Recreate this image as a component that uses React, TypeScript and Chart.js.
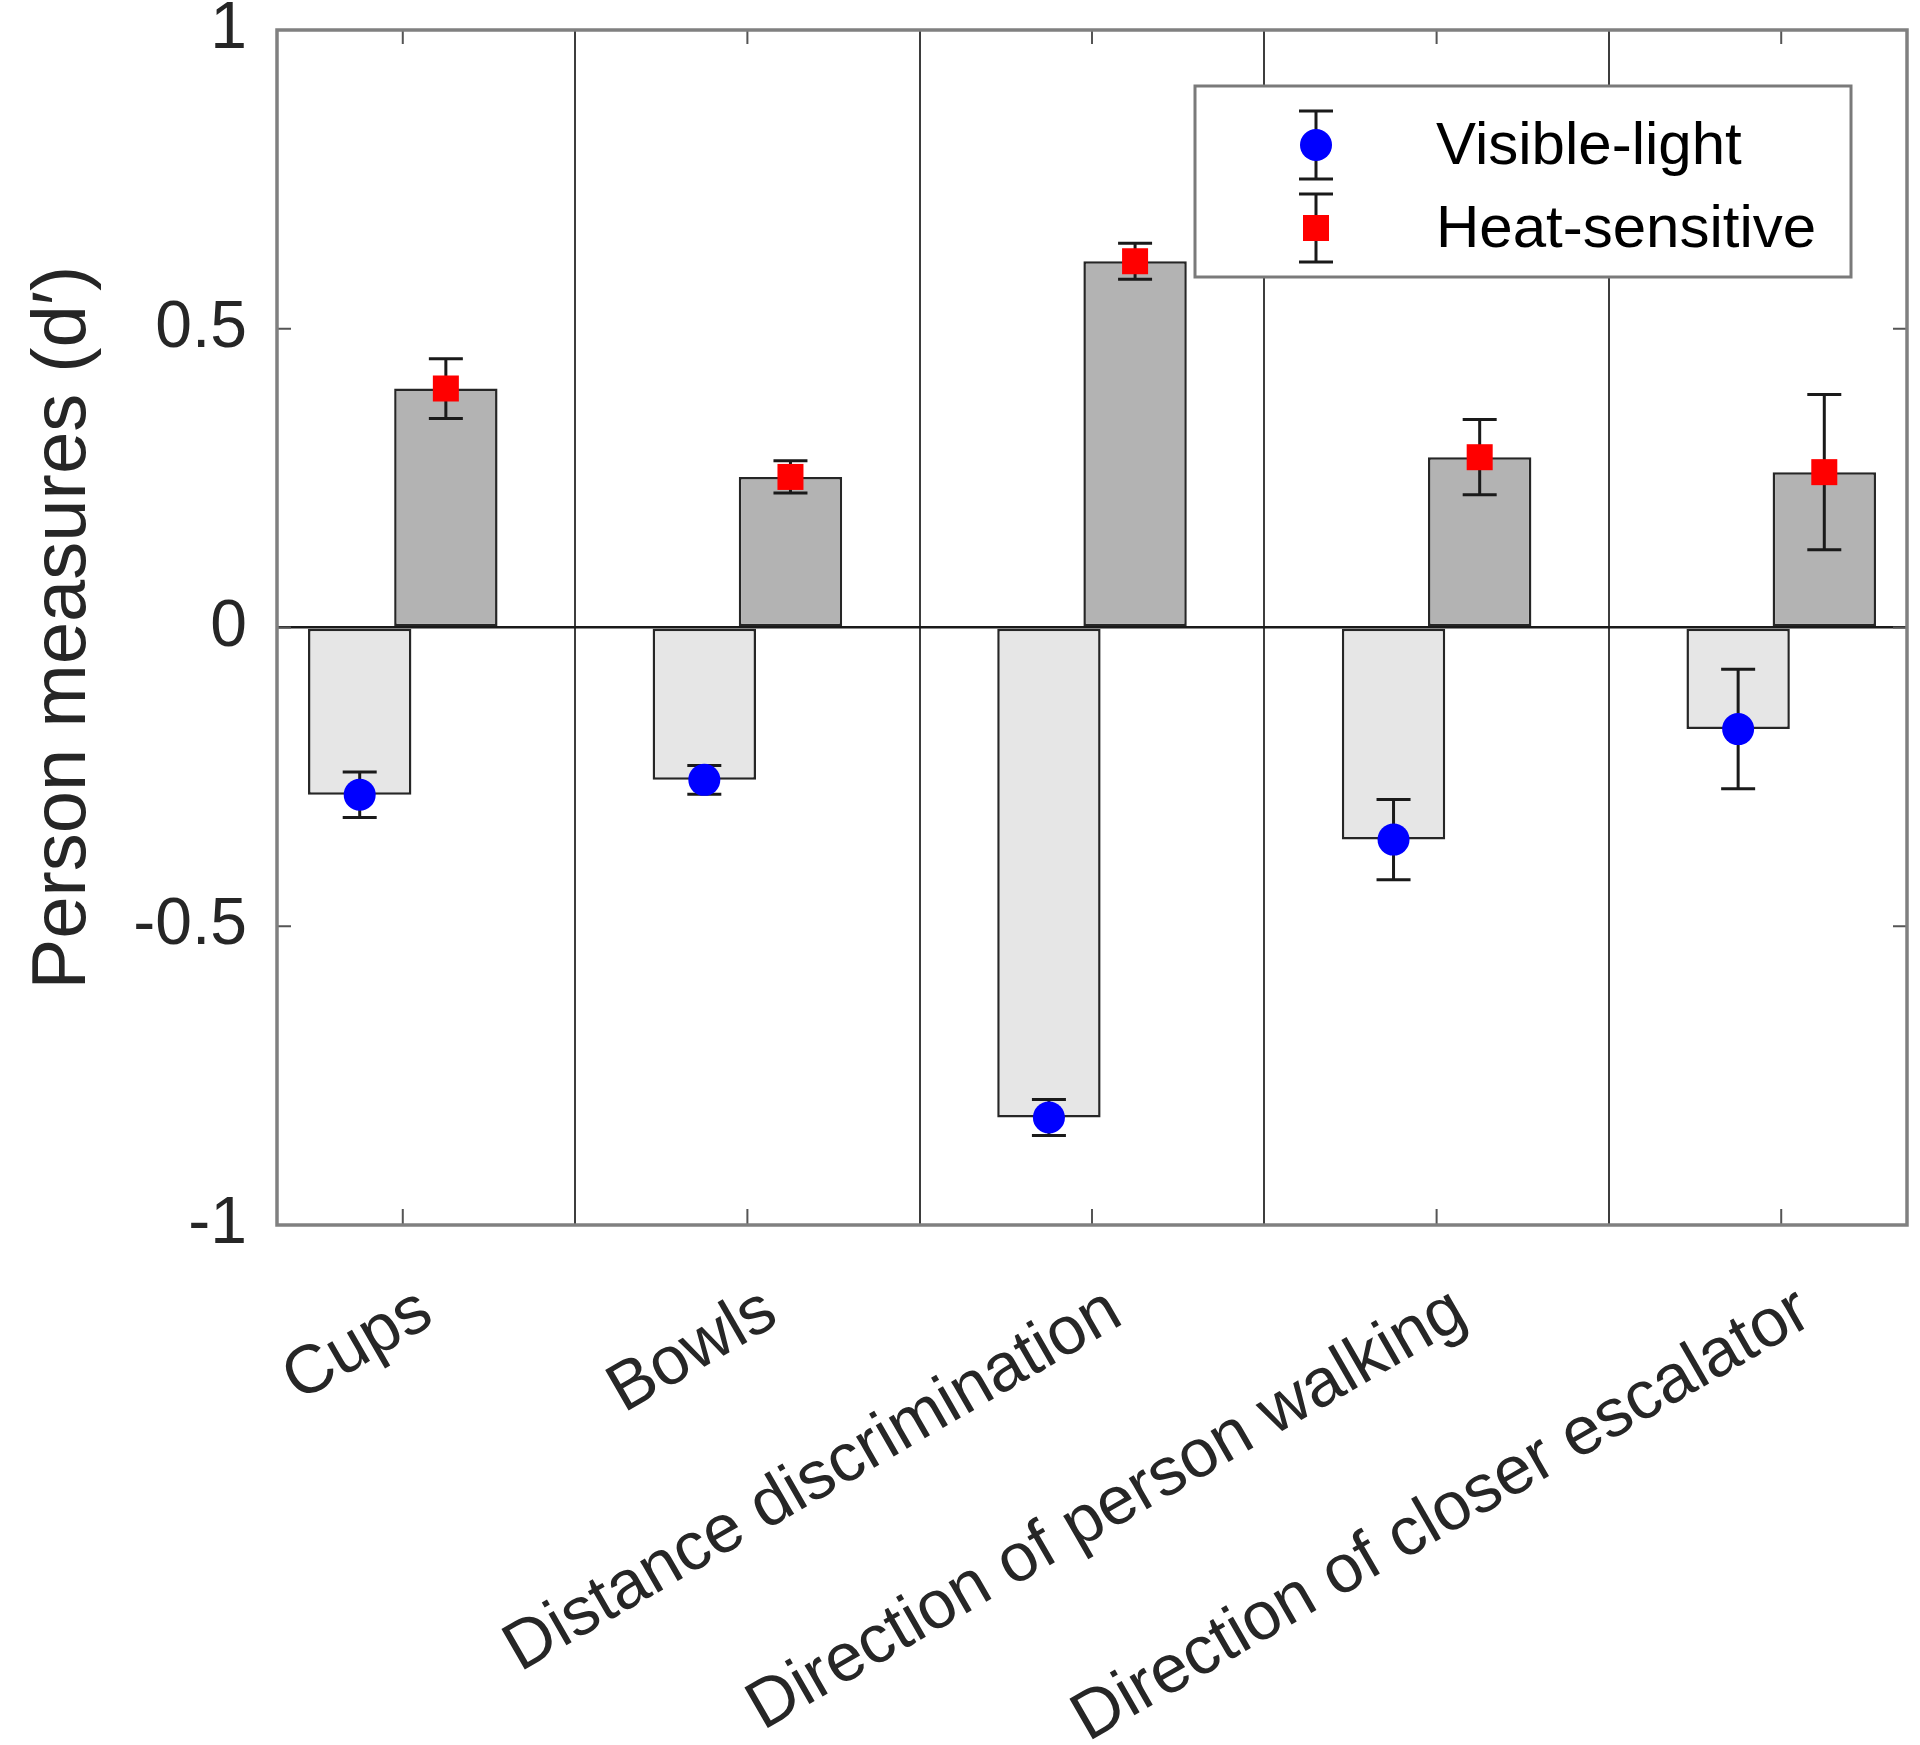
import React, { useEffect, useRef } from 'react';
import { Chart, registerables } from 'chart.js';

Chart.register(...registerables);

const categories = [
  'Cups',
  'Bowls',
  'Distance discrimination',
  'Direction of person walking',
  'Direction of closer escalator',
];
const seriesNames = ['Visible-light', 'Heat-sensitive'];
const visibleMeans = [-0.28, -0.255, -0.82, -0.355, -0.17];
const visibleErrors = [0.038, 0.024, 0.03, 0.067, 0.1];
const heatMeans = [0.4, 0.252, 0.613, 0.285, 0.26];
const heatErrors = [0.05, 0.027, 0.03, 0.063, 0.13];
const yTicks = [-1, -0.5, 0, 0.5, 1];
const yTickLabels = ['-1', '-0.5', '0', '0.5', '1'];
const xRange = [0.635, 5.365];
const dividerPositions = [1.5, 2.5, 3.5, 4.5];

const FONT = '"Liberation Sans", Arial, Helvetica, sans-serif';
const TEXT = '#262626';

function drawMarker(ctx: CanvasRenderingContext2D, shape: string, color: string, x: number, y: number) {
  ctx.fillStyle = color;
  if (shape === 'circle') {
    ctx.beginPath();
    ctx.arc(x, y, 16, 0, Math.PI * 2);
    ctx.fill();
  } else {
    ctx.fillRect(x - 13, y - 13, 26, 26);
  }
}

function drawErrorBar(ctx: CanvasRenderingContext2D, x: number, yTop: number, yBot: number) {
  const cap = 17;
  ctx.strokeStyle = '#1a1a1a';
  ctx.lineWidth = 3;
  ctx.beginPath();
  ctx.moveTo(x, yTop);
  ctx.lineTo(x, yBot);
  ctx.moveTo(x - cap, yTop);
  ctx.lineTo(x + cap, yTop);
  ctx.moveTo(x - cap, yBot);
  ctx.lineTo(x + cap, yBot);
  ctx.stroke();
}

const errorBarPlugin = {
  id: 'errorBars',
  afterDatasetsDraw(chart: any) {
    const ctx = chart.ctx as CanvasRenderingContext2D;
    const yScale = chart.scales.y;
    chart.data.datasets.forEach((ds: any, di: number) => {
      const meta = chart.getDatasetMeta(di);
      meta.data.forEach((bar: any, i: number) => {
        const m = ds.data[i].y;
        const e = ds.errors[i];
        const x = bar.x;
        ctx.save();
        drawErrorBar(ctx, x, yScale.getPixelForValue(m + e), yScale.getPixelForValue(m - e));
        drawMarker(ctx, ds.markerShape, ds.markerColor, x, yScale.getPixelForValue(m));
        ctx.restore();
      });
    });
  },
};

const frameAndLegendPlugin = {
  id: 'frameAndLegend',
  afterDraw(chart: any) {
    const ctx = chart.ctx as CanvasRenderingContext2D;
    const { left, right, top, bottom } = chart.chartArea;
    const xScale = chart.scales.x;
    const yScale = chart.scales.y;
    ctx.save();
    ctx.strokeStyle = '#555555';
    ctx.lineWidth = 2;
    ctx.beginPath();
    yScale.ticks.forEach((t: any) => {
      const py = yScale.getPixelForValue(t.value);
      ctx.moveTo(left, py);
      ctx.lineTo(left + 14, py);
      ctx.moveTo(right, py);
      ctx.lineTo(right - 14, py);
    });
    xScale.ticks.forEach((t: any) => {
      const px = xScale.getPixelForValue(t.value);
      ctx.moveTo(px, bottom);
      ctx.lineTo(px, bottom - 16);
      ctx.moveTo(px, top);
      ctx.lineTo(px, top + 14);
    });
    ctx.stroke();
    ctx.strokeStyle = '#808080';
    ctx.lineWidth = 3.5;
    ctx.strokeRect(left, top, right - left, bottom - top);

    const boxW = 656;
    const boxH = 191;
    const bx = right - 56 - boxW;
    const by = top + 56;
    ctx.fillStyle = '#ffffff';
    ctx.fillRect(bx, by, boxW, boxH);
    ctx.strokeStyle = '#7a7a7a';
    ctx.lineWidth = 3;
    ctx.strokeRect(bx, by, boxW, boxH);
    const rows = [
      { name: seriesNames[0], color: '#0000ff', shape: 'circle' },
      { name: seriesNames[1], color: '#ff0000', shape: 'rect' },
    ];
    ctx.font = `60px ${FONT}`;
    ctx.textAlign = 'left';
    ctx.textBaseline = 'middle';
    rows.forEach((r, i) => {
      const cy = by + 59 + i * 83;
      const mx = bx + 121;
      drawErrorBar(ctx, mx, cy - 34, cy + 34);
      drawMarker(ctx, r.shape, r.color, mx, cy);
      ctx.fillStyle = '#000000';
      ctx.fillText(r.name, bx + 241, cy + 2);
    });
    ctx.restore();
  },
};

export default function App() {
  const canvasRef = useRef<HTMLCanvasElement | null>(null);

  useEffect(() => {
    if (!canvasRef.current) return;
    const barCommon = {
      borderColor: '#262626',
      borderWidth: 2.5,
      borderSkipped: false,
      categoryPercentage: 0.5,
      barPercentage: 1.2,
    };
    const chart = new Chart(canvasRef.current, {
      type: 'bar',
      data: {
        datasets: [
          {
            ...barCommon,
            label: seriesNames[0],
            data: visibleMeans.map((v, i) => ({ x: i + 1, y: v })),
            backgroundColor: '#e6e6e6',
            errors: visibleErrors,
            markerColor: '#0000ff',
            markerShape: 'circle',
          } as any,
          {
            ...barCommon,
            label: seriesNames[1],
            data: heatMeans.map((v, i) => ({ x: i + 1, y: v })),
            backgroundColor: '#b3b3b3',
            errors: heatErrors,
            markerColor: '#ff0000',
            markerShape: 'rect',
          } as any,
        ],
      },
      options: {
        responsive: false,
        animation: false,
        layout: { padding: { top: 30, right: 13, left: 0, bottom: 0 } },
        plugins: {
          legend: { display: false },
          tooltip: { enabled: false },
        },
        scales: {
          x: {
            type: 'linear',
            min: xRange[0],
            max: xRange[1],
            offset: false,
            afterBuildTicks: (s: any) => {
              s.ticks = categories.map((_, i) => ({ value: i + 1 }));
            },
            ticks: {
              autoSkip: false,
              minRotation: 30,
              maxRotation: 30,
              padding: 46,
              labelOffset: 24,
              color: TEXT,
              font: { family: FONT, size: 68 },
              callback: (_v: any, i: number) => categories[i],
            },
            grid: { display: false, drawTicks: false, offset: false },
            border: { display: false },
            afterFit: (s: any) => {
              s.height = 520;
              s.paddingLeft = 0;
              s.paddingRight = 0;
            },
          },
          x2: {
            type: 'linear',
            position: 'top',
            min: xRange[0],
            max: xRange[1],
            offset: false,
            afterBuildTicks: (s: any) => {
              s.ticks = dividerPositions.map((v) => ({ value: v }));
            },
            ticks: { display: false },
            grid: { color: '#3d3d3d', lineWidth: 2, drawTicks: false, offset: false },
            border: { display: false },
            afterFit: (s: any) => {
              s.height = 0;
              s.paddingLeft = 0;
              s.paddingRight = 0;
            },
          },
          y: {
            min: -1,
            max: 1,
            afterBuildTicks: (s: any) => {
              s.ticks = yTicks.map((v) => ({ value: v }));
            },
            ticks: {
              padding: 30,
              color: TEXT,
              font: { family: FONT, size: 66 },
              callback: (_v: any, i: number) => yTickLabels[i],
            },
            grid: {
              drawTicks: false,
              lineWidth: 2.5,
              color: (c: any) => (c.tick && c.tick.value === 0 ? '#1a1a1a' : 'rgba(0,0,0,0)'),
            },
            border: { display: false },
            title: {
              display: true,
              text: 'Person measures (d\u2032)',
              color: TEXT,
              font: { family: FONT, size: 76 },
              padding: { top: 18, bottom: 0 },
            },
            afterFit: (s: any) => {
              s.width = 277;
              s.paddingTop = 0;
              s.paddingBottom = 0;
            },
          },
        },
      } as any,
      plugins: [errorBarPlugin, frameAndLegendPlugin],
    });
    return () => chart.destroy();
  }, []);

  return (
    <div style={{ position: 'absolute', left: 0, top: 0, width: 1920, height: 1745, background: '#ffffff' }}>
      <canvas ref={canvasRef} width={1920} height={1745} style={{ display: 'block' }} />
    </div>
  );
}
